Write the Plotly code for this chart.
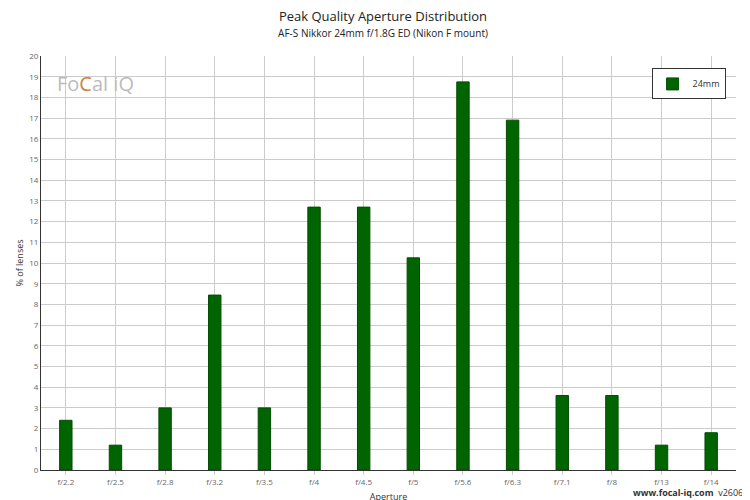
import plotly.graph_objects as go

apertures = ['f/2.2', 'f/2.5', 'f/2.8', 'f/3.2', 'f/3.5', 'f/4', 'f/4.5', 'f/5',
             'f/5.6', 'f/6.3', 'f/7.1', 'f/8', 'f/13', 'f/14']
pct_lenses = [2.4, 1.2, 3.0, 8.45, 3.0, 12.7, 12.7, 10.25, 18.75, 16.9, 3.6, 3.6, 1.2, 1.8]

fig = go.Figure()
fig.add_trace(go.Bar(x=apertures, y=pct_lenses, name='24mm', marker_color='#006400',
                     marker_line_color='#004d00', marker_line_width=1, width=0.25))

fig.update_layout(
    width=750, height=500,
    paper_bgcolor='white', plot_bgcolor='white',
    font=dict(family='Open Sans', size=9, color='#333'),
    title=dict(text='Peak Quality Aperture Distribution<br><span style="font-size:10px">AF-S Nikkor 24mm f/1.8G ED (Nikon F mount)</span>',
               x=0.5, y=0.975, xanchor='center', font=dict(size=13, color='#222')),
    margin=dict(l=33, r=22, t=48, b=38),
    showlegend=True,
    legend=dict(x=0.985, y=0.97, xanchor='right', yanchor='top', bordercolor='#333', borderwidth=1,
                bgcolor='white', font=dict(size=9)),
    xaxis=dict(title=dict(text='Aperture', font=dict(size=9), standoff=8), showgrid=True, gridcolor='#ccc',
               linecolor='#333', showline=True, mirror=False, tickfont=dict(size=8, color='#666'),
               ticks='outside', ticklen=4, tickcolor='#ccc', automargin=False),
    yaxis=dict(title=dict(text='% of lenses', font=dict(size=9), standoff=4), range=[0, 20], dtick=1,
               showgrid=True, automargin=False,
               gridcolor='#ccc', linecolor='#333', showline=True, tickfont=dict(size=8, color='#666'),
               zeroline=False),
)
fig.add_annotation(text='<b>www.focal-iq.com</b>  v26065', xref='paper', yref='paper', x=1.02, y=-0.075,
                   xanchor='right', showarrow=False, font=dict(size=9, color='#333'))
fig.add_annotation(text='Fo<span style="color:#d08040">C</span>al iQ', xref='paper', yref='paper',
                   x=0.02, y=0.97, xanchor='left', yanchor='top', showarrow=False,
                   font=dict(size=20, color='#bbb'))

fig.write_html("out.html")
